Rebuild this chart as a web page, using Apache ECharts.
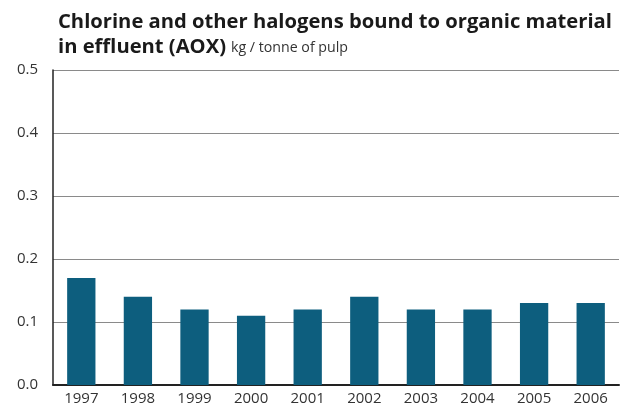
<!DOCTYPE html>
<html>
<head>
<meta charset="utf-8">
<script src="https://cdn.jsdelivr.net/npm/echarts@6/dist/echarts.min.js"></script>
<style>
  html, body { margin: 0; padding: 0; background: #fff; }
  #chart { width: 626px; height: 408px; }
</style>
</head>
<body>
<div id="chart"></div>
<script>
// AOX discharge per tonne of pulp, by year
const years = ['1997', '1998', '1999', '2000', '2001', '2002', '2003', '2004', '2005', '2006'];
const aoxValues = [0.17, 0.14, 0.12, 0.11, 0.12, 0.14, 0.12, 0.12, 0.13, 0.13];
const yTicks = [0, 0.1, 0.2, 0.3, 0.4, 0.5];

const FONT = '"Open Sans", "Noto Sans", sans-serif';
const chart = echarts.init(document.getElementById('chart'));

chart.setOption({
  animation: false,
  backgroundColor: '#ffffff',
  title: {
    left: 53,
    top: 5,
    text: '{b|Chlorine and other halogens bound to organic material}\n{b|in effluent (AOX)} {s|kg / tonne of pulp}',
    textStyle: {
      rich: {
        b: { fontFamily: FONT, fontWeight: 'bold', fontSize: 20.2, color: '#1a1a1a', lineHeight: 25 },
        s: { fontFamily: FONT, fontWeight: 'normal', fontSize: 14.2, color: '#333', lineHeight: 25 }
      }
    }
  },
  grid: { left: 53, right: 7, top: 70, bottom: 23 },
  xAxis: {
    type: 'category',
    data: years,
    axisLine: { lineStyle: { color: '#222', width: 2 } },
    axisTick: { show: false },
    axisLabel: { fontFamily: FONT, fontSize: 15, color: '#333', margin: 6 }
  },
  yAxis: {
    type: 'value',
    min: yTicks[0],
    max: yTicks[yTicks.length - 1],
    interval: 0.1,
    axisLine: { show: true, lineStyle: { color: '#222', width: 1.5 } },
    axisTick: { show: false },
    axisLabel: {
      fontFamily: FONT, fontSize: 15, color: '#333', margin: 15,
      formatter: v => v.toFixed(1)
    },
    splitLine: { lineStyle: { color: '#8a8a8a', width: 1 } }
  },
  series: [{
    type: 'bar',
    data: aoxValues,
    barWidth: '50%',
    itemStyle: { color: '#0d5e7e' }
  }]
});
</script>
</body>
</html>
